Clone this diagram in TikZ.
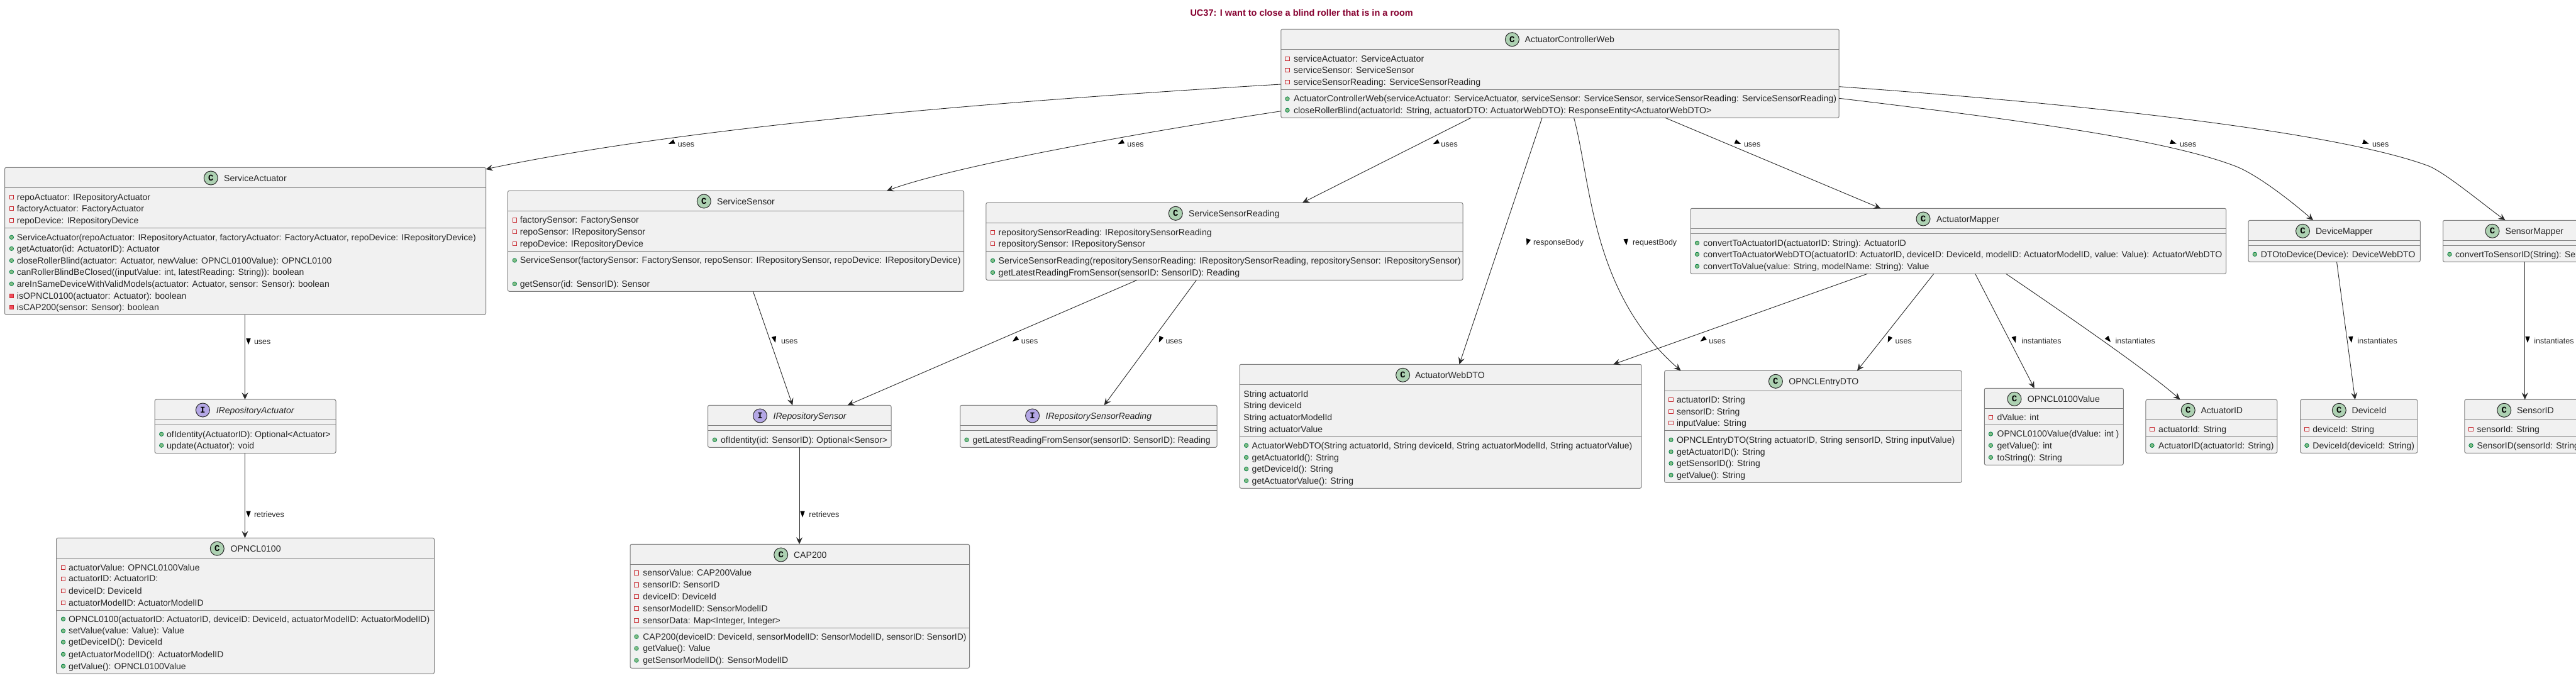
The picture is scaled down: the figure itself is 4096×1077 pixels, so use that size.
\documentclass[tikz,border=0pt]{standalone}
\usepackage{fontspec}
\setmainfont{Liberation Sans}
\newfontfamily\icofont{Liberation Mono}
\usetikzlibrary{arrows.meta}
\definecolor{boxfill}{HTML}{F1F1F1}
\definecolor{boxedge}{HTML}{7F7F7F}
\definecolor{inkline}{HTML}{2A2A2A}
\definecolor{titlered}{HTML}{860030}
\definecolor{iconc}{HTML}{ADD1B2}
\definecolor{iconi}{HTML}{B4A7E5}
\definecolor{privedge}{HTML}{C82930}
\definecolor{privfill}{HTML}{F24D5C}
\definecolor{pubedge}{HTML}{038048}
\definecolor{pubfill}{HTML}{84BE84}
\def\rsz{14.0}
\tikzset{
  classbox/.style={draw=boxedge,fill=boxfill,line width=1pt,rounded corners=2.5pt,inner sep=0pt,outer sep=0pt},
  sepline/.style={draw=boxedge,line width=1pt},
  arr/.style={draw=inkline,line width=0.9pt,-{Stealth[length=11pt,width=10pt,inset=4pt]}},
  rowtxt/.style={anchor=base west,inner sep=0pt,outer sep=0pt,text=black!85,font=\fontsize{\rsz}{16}\selectfont},
  headtxt/.style={anchor=base west,inner sep=0pt,outer sep=0pt,text=black!85,font=\fontsize{14.1}{16}\selectfont},
  headital/.style={anchor=base west,inner sep=0pt,outer sep=0pt,text=black!85,font=\fontsize{14.1}{16}\itshape\selectfont},
  lbltxt/.style={anchor=base west,inner sep=0pt,outer sep=0pt,text=black!85,font=\fontsize{12.5}{14}\selectfont},
  titletxt/.style={anchor=base west,inner sep=0pt,outer sep=0pt,text=titlered,font=\fontsize{14.5}{16}\bfseries\selectfont},
  iconball/.style={circle,draw=inkline,line width=1pt,minimum size=22pt,inner sep=0pt,outer sep=0pt,font=\fontsize{14}{14}\icofont\bfseries\selectfont},
  privf/.style={draw=privedge,line width=1pt,fill=none},
  privm/.style={draw=privedge,line width=0.8pt,fill=privfill},
  pubm/.style={draw=pubedge,line width=0.8pt,fill=pubfill},
}
\newcounter{nc}
\newcommand\cbox[7]{%
  \pgfmathsetmacro\bxcx{(#2+#4)/2}\pgfmathsetmacro\bxcy{(#3+#5)/2}%
  \pgfmathsetmacro\bxw{#4-#2}\pgfmathsetmacro\bxh{#5-#3}%
  \node[classbox,minimum width=\bxw pt,minimum height=\bxh pt] (#1) at (\bxcx,\bxcy) {};
  \draw[sepline] (#1.west |- 0,#6) -- (#1.east |- 0,#6);
  \draw[sepline] (#1.west |- 0,#7) -- (#1.east |- 0,#7);
}
% kind, icon x, text x, y, title
\newcommand\chead[5]{%
  \stepcounter{nc}%
  \ifx#1C
    \node[iconball,fill=iconc] (h\arabic{nc}) at (#2,#4) {C};
    \stepcounter{nc}\node[headtxt] (h\arabic{nc}) at (#3,{#4+5}) {#5};
  \else
    \node[iconball,fill=iconi] (h\arabic{nc}) at (#2,#4) {I};
    \stepcounter{nc}\node[headital] (h\arabic{nc}) at (#3,{#4+5}) {#5};
  \fi
}
\newcommand\iconf[1]{\draw[privf,shift={(\ix,#1)}] (-3.1,-3.1) rectangle (3.1,3.1);}
\newcommand\iconp[1]{\draw[privm,shift={(\ix,#1)}] (-3.3,-3.3) rectangle (3.3,3.3);}
\newcommand\iconm[1]{\draw[pubm] (\ix,#1) circle (3.2);}
\newcommand\iconn[1]{}
\newcommand\rw[3]{%
  \csname icon#1\endcsname{#2}%
  \stepcounter{nc}\node[rowtxt] (r\arabic{nc}) at (\tx,{#2+4.8}) {#3};
}
% centre x, y, direction dx, dy
\newcommand\tri[4]{%
  \pgfmathsetmacro\tlen{sqrt((#3)*(#3)+(#4)*(#4))}%
  \pgfmathsetmacro\tux{(#3)/\tlen}\pgfmathsetmacro\tuy{(#4)/\tlen}%
  \fill[black] ({#1+5*\tux},{#2+5*\tuy}) -- ({#1-5*\tux-3.7*\tuy},{#2-5*\tuy+3.7*\tux}) -- ({#1-5*\tux+3.7*\tuy},{#2-5*\tuy-3.7*\tux}) -- cycle;
}
% triangle x, y, dx, dy, text x, text y, text
\newcommand\lb[7]{%
  \tri{#1}{#2}{#3}{#4}%
  \stepcounter{nc}\node[lbltxt] (l\arabic{nc}) at (#5,{#6+4.4}) {#7};
}
\begin{document}
\begin{tikzpicture}[x=1pt,y=-1pt]
\clip (0,0) rectangle (4096,1077);
\fill[white] (0,0) rectangle (4096,1077);
\node[titletxt] (title) at (1892.5,25.3) {UC37: I want to close a blind roller that is in a room};

% ActuatorControllerWeb
\cbox{acw}{2036.8}{46.3}{2924.2}{187.3}{78.3}{142.3}
\chead{C}{2404.4}{2424.7}{62.7}{ActuatorControllerWeb}
\def\ix{2047}\def\tx{2057}
\def\rsz{14.2}
\rw{f}{93.3}{serviceActuator: ServiceActuator}
\rw{f}{111.3}{serviceSensor: ServiceSensor}
\rw{f}{130.3}{serviceSensorReading: ServiceSensorReading}
\rw{m}{157}{ActuatorControllerWeb(serviceActuator: ServiceActuator, serviceSensor: ServiceSensor, serviceSensorReading: ServiceSensorReading)}
\rw{m}{175.3}{closeRollerBlind(actuatorId: String, actuatorDTO: ActuatorWebDTO): ResponseEntity<ActuatorWebDTO>}
\def\rsz{14.0}

% ServiceActuator
\cbox{sa}{7.5}{266.3}{772.5}{500.3}{298.3}{362.3}
\chead{C}{335.3}{356.2}{283}{ServiceActuator}
\def\ix{18.4}\def\tx{26.9}
\rw{f}{313.3}{repoActuator: IRepositoryActuator}
\rw{f}{331.7}{factoryActuator: FactoryActuator}
\rw{f}{350.3}{repoDevice: IRepositoryDevice}
\rw{m}{377.3}{ServiceActuator(repoActuator: IRepositoryActuator, factoryActuator: FactoryActuator, repoDevice: IRepositoryDevice)}
\rw{m}{395.3}{getActuator(id: ActuatorID): Actuator}
\rw{m}{414.3}{closeRollerBlind(actuator: Actuator, newValue: OPNCL0100Value): OPNCL0100}
\rw{m}{432.3}{canRollerBlindBeClosed((inputValue: int, latestReading: String)): boolean}
\rw{m}{451.3}{areInSameDeviceWithValidModels(actuator: Actuator, sensor: Sensor): boolean}
\rw{p}{470.3}{isOPNCL0100(actuator: Actuator): boolean}
\rw{p}{488.3}{isCAP200(sensor: Sensor): boolean}

% ServiceSensor
\cbox{ss}{807.4}{303.3}{1532.7}{463.3}{335.3}{399.3}
\chead{C}{1119.3}{1140.2}{320}{ServiceSensor}
\def\ix{818.3}\def\tx{826.8}
\def\rsz{14.2}
\rw{f}{350}{factorySensor: FactorySensor}
\rw{f}{368.3}{repoSensor: IRepositorySensor}
\rw{f}{387.3}{repoDevice: IRepositoryDevice}
\rw{m}{414}{ServiceSensor(factorySensor: FactorySensor, repoSensor: IRepositorySensor, repoDevice: IRepositoryDevice)}
\rw{m}{451.3}{getSensor(id: SensorID): Sensor}

% ServiceSensorReading
\cbox{ssr}{1567.8}{322.3}{2326}{445.3}{354.3}{399.3}
\chead{C}{1869.3}{1890.2}{339.3}{ServiceSensorReading}
\def\ix{1578.5}\def\tx{1587.7}
\rw{f}{369.3}{repositorySensorReading: IRepositorySensorReading}
\rw{f}{387.7}{repositorySensor: IRepositorySensor}
\rw{m}{414.3}{ServiceSensorReading(repositorySensorReading: IRepositorySensorReading, repositorySensor: IRepositorySensor)}
\rw{m}{433.3}{getLatestReadingFromSensor(sensorID: SensorID): Reading}
\def\rsz{14.1}

% ActuatorMapper
\cbox{am}{2688}{331.3}{3539.6}{435.3}{363}{371.3}
\chead{C}{3058}{3079}{348}{ActuatorMapper}
\def\ix{2698.5}\def\tx{2708.3}
\rw{m}{386.3}{convertToActuatorID(actuatorID: String): ActuatorID}
\rw{m}{404.3}{convertToActuatorWebDTO(actuatorID: ActuatorID, deviceID: DeviceId, modelID: ActuatorModelID, value: Value): ActuatorWebDTO}
\rw{m}{423.3}{convertToValue(value: String, modelName: String): Value}
\def\rsz{14.0}

% DeviceMapper
\cbox{dm}{3575}{350.3}{3848.3}{416.3}{382.3}{390.3}
\chead{C}{3661.5}{3682}{367.3}{DeviceMapper}
\def\ix{3585.3}\def\tx{3594.8}
\rw{m}{404.3}{DTOtoDevice(Device): DeviceWebDTO}

% SensorMapper
\cbox{sm}{3884.5}{350.3}{4230}{416.3}{382.3}{390.3}
\chead{C}{3963}{3983.6}{367.3}{SensorMapper}
\def\ix{3895}\def\tx{3904}
\rw{m}{404.3}{convertToSensorID(String): SensorID}

% IRepositoryActuator
\cbox{ira}{246}{635.2}{534}{720.5}{667.4}{675.3}
\chead{I}{322.4}{343.8}{652}{IRepositoryActuator}
\def\ix{256.7}\def\tx{265.2}
\rw{m}{690.3}{ofIdentity(ActuatorID): Optional<Actuator>}
\rw{m}{708.2}{update(Actuator): void}

% IRepositorySensor
\cbox{irs}{1125.6}{644.3}{1417}{711.3}{676.3}{684.3}
\chead{I}{1208.5}{1229.6}{661}{IRepositorySensor}
\def\ix{1136.5}\def\tx{1146}
\rw{m}{699.3}{ofIdentity(id: SensorID): Optional<Sensor>}

% IRepositorySensorReading
\cbox{irsr}{1526.8}{644.3}{1935}{711.3}{676.3}{684.3}
\chead{I}{1641.6}{1662.6}{661}{IRepositorySensorReading}
\def\ix{1537}\def\tx{1546.6}
\rw{m}{699.3}{getLatestReadingFromSensor(sensorID: SensorID): Reading}

% OPNCL0100
\cbox{op}{89.5}{855.4}{690.5}{1071.2}{887.3}{970.5}
\chead{C}{345.3}{366.7}{872.2}{OPNCL0100}
\def\ix{100.5}\def\tx{109}
\rw{f}{902.3}{actuatorValue: OPNCL0100Value}
\rw{f}{920.1}{actuatorID: ActuatorID:}
\rw{f}{939.3}{deviceID: DeviceId}
\rw{f}{958.2}{actuatorModelID: ActuatorModelID}
\rw{m}{984.2}{OPNCL0100(actuatorID: ActuatorID, deviceID: DeviceId, actuatorModelID: ActuatorModelID)}
\rw{m}{1003}{setValue(value: Value): Value}
\rw{m}{1021}{getDeviceID(): DeviceId}
\rw{m}{1040.3}{getActuatorModelID(): ActuatorModelID}
\rw{m}{1059.2}{getValue(): OPNCL0100Value}

% CAP200
\cbox{cap}{1002}{865.3}{1541.5}{1062.3}{897.3}{998.3}
\chead{C}{1241.7}{1262}{882}{CAP200}
\def\ix{1012}\def\tx{1022.3}
\rw{f}{911}{sensorValue: CAP200Value}
\rw{f}{930}{sensorID: SensorID}
\rw{f}{948.3}{deviceID: DeviceId}
\rw{f}{967.3}{sensorModelID: SensorModelID}
\rw{f}{986.3}{sensorData: Map<Integer, Integer>}
\rw{m}{1012.3}{CAP200(deviceID: DeviceId, sensorModelID: SensorModelID, sensorID: SensorID)}
\rw{m}{1031}{getValue(): Value}
\rw{m}{1050}{getSensorModelID(): SensorModelID}

% ActuatorWebDTO
\cbox{awd}{1971}{579.3}{2610}{776.3}{611.3}{694.3}
\chead{C}{2230.6}{2250}{596.3}{ActuatorWebDTO}
\def\ix{1981.6}\def\tx{1977.4}
\rw{n}{626.3}{String actuatorId}
\rw{n}{644.3}{String deviceId}
\rw{n}{663.3}{String actuatorModelId}
\rw{n}{682.3}{String actuatorValue}
\def\tx{1990.7}
\rw{m}{708.3}{ActuatorWebDTO(String actuatorId, String deviceId, String actuatorModelId, String actuatorValue)}
\rw{m}{727.3}{getActuatorId(): String}
\rw{m}{745.7}{getDeviceId(): String}
\rw{m}{764.3}{getActuatorValue(): String}

% OPNCLEntryDTO
\cbox{oed}{2646.6}{589.3}{3119}{767.3}{621.3}{684.3}
\chead{C}{2823.4}{2844.4}{606.3}{OPNCLEntryDTO}
\def\ix{2657}\def\tx{2666}
\rw{f}{635.7}{actuatorID: String}
\rw{f}{654.3}{sensorID: String}
\rw{f}{672.7}{inputValue: String}
\rw{m}{699.3}{OPNCLEntryDTO(String actuatorID, String sensorID, String inputValue)}
\rw{m}{718.3}{getActuatorID(): String}
\rw{m}{736.7}{getSensorID(): String}
\rw{m}{755.3}{getValue(): String}

% OPNCL0100Value
\cbox{ov}{3155.3}{617.3}{3376.3}{739.3}{649.3}{675.3}
\chead{C}{3203}{3223.9}{634.3}{OPNCL0100Value}
\def\ix{3165.4}\def\tx{3175.6}
\rw{f}{663.3}{dValue: int}
\rw{m}{690}{OPNCL0100Value(dValue: int )}
\rw{m}{708.3}{getValue(): int}
\rw{m}{727.3}{toString(): String}

% ActuatorID
\cbox{aid}{3411.9}{635.3}{3620.9}{720.3}{667.3}{694.3}
\chead{C}{3479.2}{3499.5}{652.3}{ActuatorID}
\def\ix{3422}\def\tx{3432.2}
\rw{f}{682.3}{actuatorId: String}
\rw{m}{708.3}{ActuatorID(actuatorId: String)}

% DeviceId
\cbox{did}{3657.7}{635.3}{3843.8}{720.3}{667.3}{694.3}
\chead{C}{3719.3}{3739.6}{652.3}{DeviceId}
\def\ix{3667.9}\def\tx{3677.4}
\rw{f}{682.3}{deviceId: String}
\rw{m}{708.3}{DeviceId(deviceId: String)}

% SensorID
\cbox{sid}{3918.8}{635.3}{4230}{720.3}{667.3}{694.3}
\chead{C}{3981.7}{4002}{652.3}{SensorID}
\def\ix{3929}\def\tx{3938.5}
\rw{f}{682.3}{sensorId: String}
\rw{m}{708.3}{SensorID(sensorId: String)}

% connectors
\draw[arr] (acw.west |- 0,134) .. controls (1600,160) and (1100,200) .. (sa.east |- 0,269);
\draw[arr] (acw.west |- 0,176.7) .. controls (1850,205) and (1530,260) .. (ss.north -| 1410,0);
\draw[arr] (acw.south -| 2339,0) -- (ssr.north -| 2071,0);
\draw[arr] (acw.south -| 2452,0) -- (awd.north -| 2320.4,0);
\draw[arr] (acw.south -| 2502.6,0) .. controls (2530,290) and (2530,465) .. (oed.north -| 2672.5,0);
\draw[arr] (acw.south -| 2647.8,0) -- (am.north -| 2990.3,0);
\draw[arr] (acw.east |- 0,156.3) .. controls (3250,195) and (3450,225) .. (3552,263.3) .. controls (3585,275) and (3640,317) .. (dm.north -| 3678,0);
\draw[arr] (acw.east |- 0,137.7) .. controls (3350,168) and (3720,212) .. (3860,263.3) .. controls (3885,272) and (3950,326) .. (sm.north -| 3983.5,0);
\draw[arr] (sa.south -| 389.5,0) -- (ira.north -| 389.5,0);
\draw[arr] (ira.south -| 389.5,0) -- (op.north -| 389.5,0);
\draw[arr] (ss.south -| 1197.4,0) -- (irs.north -| 1260.2,0);
\draw[arr] (ssr.south -| 1808,0) -- (irs.north -| 1347.6,0);
\draw[arr] (ssr.south -| 1902.4,0) -- (irsr.north -| 1755.7,0);
\draw[arr] (irs.south -| 1271,0) -- (cap.north -| 1271,0);
\draw[arr] (am.south -| 2969.3,0) -- (awd.north -| 2565.2,0);
\draw[arr] (am.south -| 3074.8,0) -- (oed.north -| 2953,0);
\draw[arr] (am.south -| 3140.7,0) -- (ov.north -| 3234.7,0);
\draw[arr] (am.south -| 3189.6,0) .. controls (3245,473) and (3410,585) .. (aid.north -| 3466.5,0);
\draw[arr] (dm.south -| 3715.5,0) -- (did.north -| 3744.7,0);
\draw[arr] (sm.south -| 4014.7,0) -- (sid.north -| 4014.7,0);

% labels
\lb{1067.5}{227}{-1}{0.4}{1077.8}{229}{uses}
\lb{1782}{227}{-1}{0.5}{1792.3}{229}{uses}
\lb{2283}{227}{-1}{0.5}{2291.4}{229}{uses}
\lb{2763.6}{227}{1}{0.42}{2773}{229}{uses}
\lb{3456}{227}{1}{0.35}{3466}{229}{uses}
\lb{3762}{227}{1}{0.35}{3772}{229}{uses}
\lb{2429}{385}{-0.33}{1}{2438.2}{385}{responseBody}
\lb{2585.6}{385}{0.1}{1}{2596}{385}{requestBody}
\lb{395}{543}{0}{1}{404}{542.7}{uses}
\lb{395}{817.7}{0}{1}{404}{817.7}{retrieves}
\lb{1276}{817.7}{0}{1}{1286.4}{817.7}{retrieves}
\lb{1231.7}{540}{0.25}{1}{1242}{542}{uses}
\lb{1614}{540}{-1}{0.72}{1623.9}{542}{uses}
\lb{1844.8}{540}{-0.45}{1}{1853.5}{542}{uses}
\lb{2707.6}{540}{-1}{0.71}{2717.4}{542}{uses}
\lb{3003.7}{540}{-0.45}{1}{3013.5}{542}{uses}
\lb{3203.5}{540}{0.5}{1.9}{3214.3}{542}{instantiates}
\lb{3352.8}{540}{0.7}{0.8}{3363.6}{542}{instantiates}
\lb{3738.4}{540}{0.13}{1}{3748.5}{542}{instantiates}
\lb{4019}{540}{0}{1}{4029.3}{542}{instantiates}
\end{tikzpicture}
\end{document}
